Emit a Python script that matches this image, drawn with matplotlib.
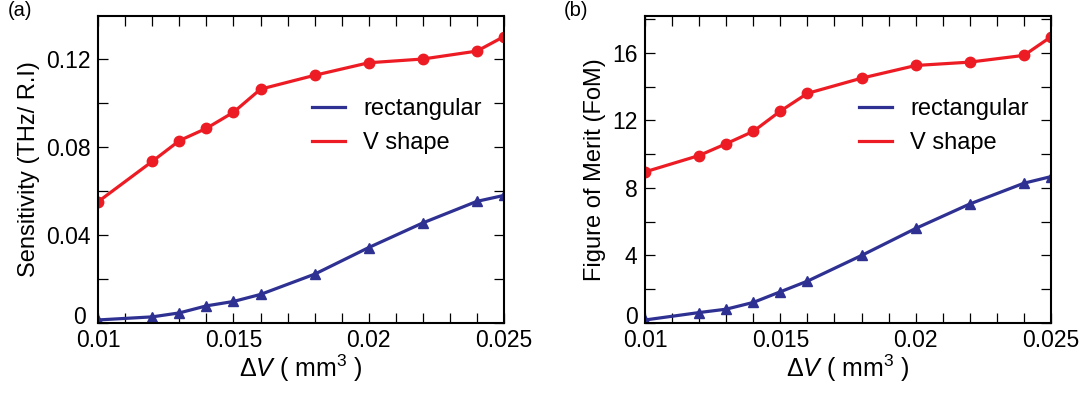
import matplotlib.pyplot as plt
from matplotlib.ticker import MultipleLocator
from matplotlib.transforms import ScaledTranslation

plt.rcParams['font.family'] = ['Liberation Sans', 'DejaVu Sans']
plt.rcParams['mathtext.fontset'] = 'custom'
plt.rcParams['mathtext.rm'] = 'Liberation Sans'
plt.rcParams['mathtext.it'] = 'Liberation Sans:italic'

# volume change (mm^3)
dv = [0.010, 0.012, 0.013, 0.014, 0.015, 0.016, 0.018, 0.020, 0.022, 0.024, 0.025]
xticks = [0.01, 0.015, 0.02, 0.025]
xtick_labels = ['0.01', '0.015', '0.02', '0.025']

# (a) sensitivity (THz/RIU)
sens_rect = [0.0014, 0.0028, 0.0046, 0.0078, 0.0098, 0.0130, 0.0222, 0.0343, 0.0455, 0.0553, 0.0580]
sens_v = [0.0552, 0.0735, 0.0829, 0.0885, 0.0958, 0.1063, 0.1126, 0.1183, 0.1200, 0.1236, 0.1302]
sens_ticks = [0, 0.04, 0.08, 0.12]
sens_labels = ['0', '0.04', '0.08', '0.12']

# (b) figure of merit
fom_rect = [0.18, 0.62, 0.82, 1.22, 1.85, 2.48, 4.0, 5.6, 7.05, 8.28, 8.67]
fom_v = [8.95, 9.92, 10.62, 11.35, 12.55, 13.6, 14.5, 15.25, 15.45, 15.85, 16.95]
fom_ticks = [0, 4, 8, 12, 16]

blue = '#2e3192'
red = '#ed1c24'

fig = plt.figure(figsize=(10.87, 3.96), dpi=100)
ax_a = fig.add_axes([0.0904, 0.1843, 0.3732, 0.7761])
ax_b = fig.add_axes([0.5934, 0.1843, 0.3735, 0.7761])


def style(ax, ylim, yticks, minor, zero_shift):
    ax.set_xlim(0.01, 0.025)
    ax.set_ylim(*ylim)
    ax.set_xticks(xticks)
    ax.set_xticklabels(xtick_labels)
    ax.xaxis.set_minor_locator(MultipleLocator(0.001))
    ax.set_yticks(yticks)
    ax.yaxis.set_minor_locator(MultipleLocator(minor))
    ax.tick_params(which='both', direction='in', top=True, right=True, labelsize=16.5,
                   width=0.9, length=7.5)
    ax.tick_params(axis='x', pad=4.5)
    ax.tick_params(axis='y', pad=5.5)
    for s in ax.spines.values():
        s.set_linewidth(1.5)
    ax.set_xlabel(r'Δ$\it{V}$ ( mm$^3$ )', fontsize=18, labelpad=0)
    # the "0" on the y axis sits a little up and left, clear of "0.01"
    ticks = ax.yaxis.get_major_ticks()
    lab = ticks[0].label1
    lab.set_transform(lab.get_transform() +
                      ScaledTranslation(zero_shift[0] / 100, zero_shift[1] / 100, fig.dpi_scale_trans))


ax_a.plot(dv, sens_rect, color=blue, lw=2.3, marker='^', ms=7.5, label='rectangular')
ax_a.plot(dv, sens_v, color=red, lw=2.3, marker='o', ms=7.5, label='V shape')
ax_a.set_ylabel('Sensitivity (THz/ R.I)', fontsize=17, labelpad=4)
ax_a.set_yticks(sens_ticks)
ax_a.set_yticklabels(sens_labels)
style(ax_a, (0, 0.1397), sens_ticks, 0.02, (-5, 8))

ax_b.plot(dv, fom_rect, color=blue, lw=2.3, marker='^', ms=7.5, label='rectangular')
ax_b.plot(dv, fom_v, color=red, lw=2.3, marker='o', ms=7.5, label='V shape')
ax_b.set_ylabel('Figure of Merit (FoM)', fontsize=17, labelpad=4)
style(ax_b, (0, 18.2), fom_ticks, 2, (0, 8))

for ax in (ax_a, ax_b):
    h, l = ax.get_legend_handles_labels()
    ax.legend([plt.Line2D([], [], color=c, lw=2.3) for c in (blue, red)], l,
              loc='upper left', bbox_to_anchor=(0.475, 0.80), frameon=False,
              fontsize=17, handlelength=1.4, handletextpad=0.76, labelspacing=0.5)

fig.text(0.007, 0.997, '(a)', fontsize=14.5, va='top')
fig.text(0.519, 0.997, '(b)', fontsize=14.5, va='top')

fig.savefig('out.png', dpi=100)
